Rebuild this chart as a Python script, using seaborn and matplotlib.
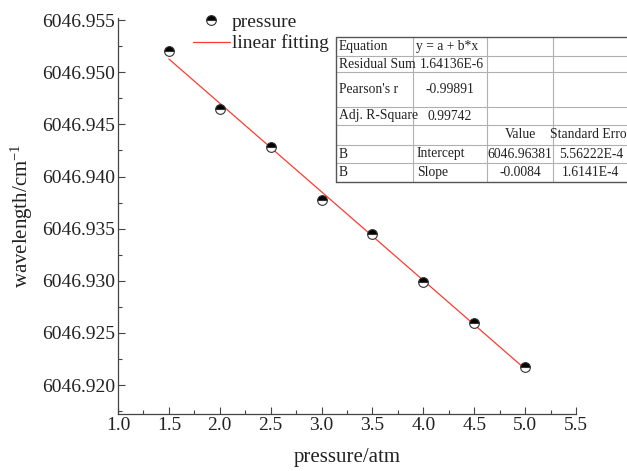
import numpy as np
import pandas as pd
import matplotlib
matplotlib.use("Agg")
import matplotlib.pyplot as plt
import seaborn as sns
from matplotlib.lines import Line2D
from matplotlib.ticker import FixedLocator, MultipleLocator, FormatStrFormatter

# ---------------- data ----------------
pressure = [1.5, 2.0, 2.5, 3.0, 3.5, 4.0, 4.5, 5.0]
wavelength = [6046.95207, 6046.94650, 6046.94282, 6046.93776,
              6046.93450, 6046.92989, 6046.92598, 6046.92176]
x_ticks = [1.0, 1.5, 2.0, 2.5, 3.0, 3.5, 4.0, 4.5, 5.0, 5.5]
y_ticks = [6046.920, 6046.925, 6046.930, 6046.935, 6046.940,
           6046.945, 6046.950, 6046.955]
legend_labels = ["pressure", "linear fitting"]
table_rows = [
    ["Equation", "y = a + b*x", "", ""],
    ["Residual Sum", "1.64136E-6", "", ""],
    ["Pearson's r", "-0.99891", "", ""],
    ["Adj. R-Square", "0.99742", "", ""],
    ["", "", "Value", "Standard Error"],
    ["B", "Intercept", "6046.96381", "5.56222E-4"],
    ["B", "Slope", "-0.0084", "1.6141E-4"],
]

df = pd.DataFrame({"pressure": pressure, "wavelength": wavelength})

# ---------------- style ----------------
sns.set_style("ticks")
plt.rcParams["font.family"] = ["Liberation Serif", "DejaVu Serif"]
plt.rcParams["mathtext.fontset"] = "custom"
plt.rcParams["mathtext.rm"] = "Liberation Serif"
plt.rcParams["mathtext.it"] = "Liberation Serif:italic"
plt.rcParams["text.color"] = "#222222"
plt.rcParams["axes.labelcolor"] = "#222222"

W, H = 627, 471
fig = plt.figure(figsize=(W / 100, H / 100), dpi=100)
ax = fig.add_axes([118 / W, 1 - 414 / H, (576 - 118) / W, (414 - 18) / H])

# fitted line (computed by seaborn from the data)
sns.regplot(data=df, x="pressure", y="wavelength", ax=ax, scatter=False,
            ci=None, truncate=True, color="#ff3b30",
            line_kws={"linewidth": 0.9})
# half-filled markers
sns.lineplot(data=df, x="pressure", y="wavelength", ax=ax, linestyle="",
             marker="o", markersize=7, fillstyle="top", color="black",
             markerfacecolor="black", markerfacecoloralt="white",
             markeredgecolor="#333333", markeredgewidth=0.8)

ax.set_xlim(1.0, 5.5)
ax.set_ylim(6046.91722, 6046.95521)
ax.xaxis.set_major_locator(FixedLocator(x_ticks))
ax.xaxis.set_major_formatter(FormatStrFormatter("%.1f"))
ax.xaxis.set_minor_locator(MultipleLocator(0.25))
ax.yaxis.set_major_locator(FixedLocator(y_ticks))
ax.yaxis.set_major_formatter(FormatStrFormatter("%.3f"))
ax.yaxis.set_minor_locator(MultipleLocator(0.0025))

ax.tick_params(which="major", direction="in", length=5, width=0.8,
               color="#444444", labelsize=14, labelcolor="#222222", pad=2)
ax.tick_params(which="minor", direction="in", length=3, width=0.8,
               color="#444444")
for s in ["top", "right"]:
    ax.spines[s].set_visible(False)
for s in ["left", "bottom"]:
    ax.spines[s].set_color("#444444")
    ax.spines[s].set_linewidth(0.9)

ax.set_xlabel("pressure/atm", fontsize=15, labelpad=10)
ax.set_ylabel(r"wavelength/cm$^{\mathregular{-1}}$", fontsize=15, labelpad=5)

# legend
handles = [
    Line2D([], [], linestyle="", marker="o", markersize=7, fillstyle="top",
           markerfacecolor="black", markerfacecoloralt="white",
           markeredgecolor="#333333", markeredgewidth=0.8),
    Line2D([], [], color="#ff3b30", linewidth=0.9),
]
ax.legend(handles, legend_labels, loc="upper left",
          bbox_to_anchor=(193 / W, 1 - 13 / H), bbox_transform=fig.transFigure,
          frameon=False, fontsize=14, handlelength=1.9, handletextpad=0.1,
          labelspacing=0.2, borderpad=0, borderaxespad=0)

# ---------------- statistics table ----------------
tx0, ty0, tx1, ty1 = 336, 37, 629, 182
tax = fig.add_axes([tx0 / W, 1 - ty1 / H, (tx1 - tx0) / W, (ty1 - ty0) / H])
tw, th = tx1 - tx0, ty1 - ty0
tax.set_xlim(0, tw)
tax.set_ylim(th, 0)
tax.axis("off")
tax.add_patch(plt.Rectangle((0, 0), tw, th, facecolor="white",
                            edgecolor="none", zorder=0))
col_edges = [0, 77, 151, 217, tw]
row_edges = [0, 19, 35, 70, 88, 108, 126, 145]
for xe in col_edges[1:-1]:
    tax.plot([xe, xe], [0, th], color="#b0b0b0", lw=0.8, zorder=1)
for ye in row_edges[1:-1]:
    tax.plot([0, tw], [ye, ye], color="#b0b0b0", lw=0.8, zorder=1)
tax.plot([0, 0, tw, tw, 0], [th, 0, 0, th, th], color="#555555", lw=1.0,
         zorder=2, clip_on=False)

left_pad = {(1, 0): 3, (1, 1): 7, (1, 5): 4, (1, 6): 4}
for r, row in enumerate(table_rows):
    yc = (row_edges[r] + row_edges[r + 1]) / 2
    for c, txt in enumerate(row):
        if not txt:
            continue
        x0, x1 = col_edges[c], col_edges[c + 1]
        if c == 0:
            tax.text(x0 + 3, yc, txt, ha="left", va="center", fontsize=9.8,
                     color="#222222")
        elif (c, r) in left_pad:
            tax.text(x0 + left_pad[(c, r)], yc, txt, ha="left", va="center",
                     fontsize=9.8, color="#222222")
        else:
            tax.text((x0 + x1) / 2, yc, txt, ha="center", va="center",
                     fontsize=9.8, color="#222222")

fig.savefig("out.png", dpi=100)
